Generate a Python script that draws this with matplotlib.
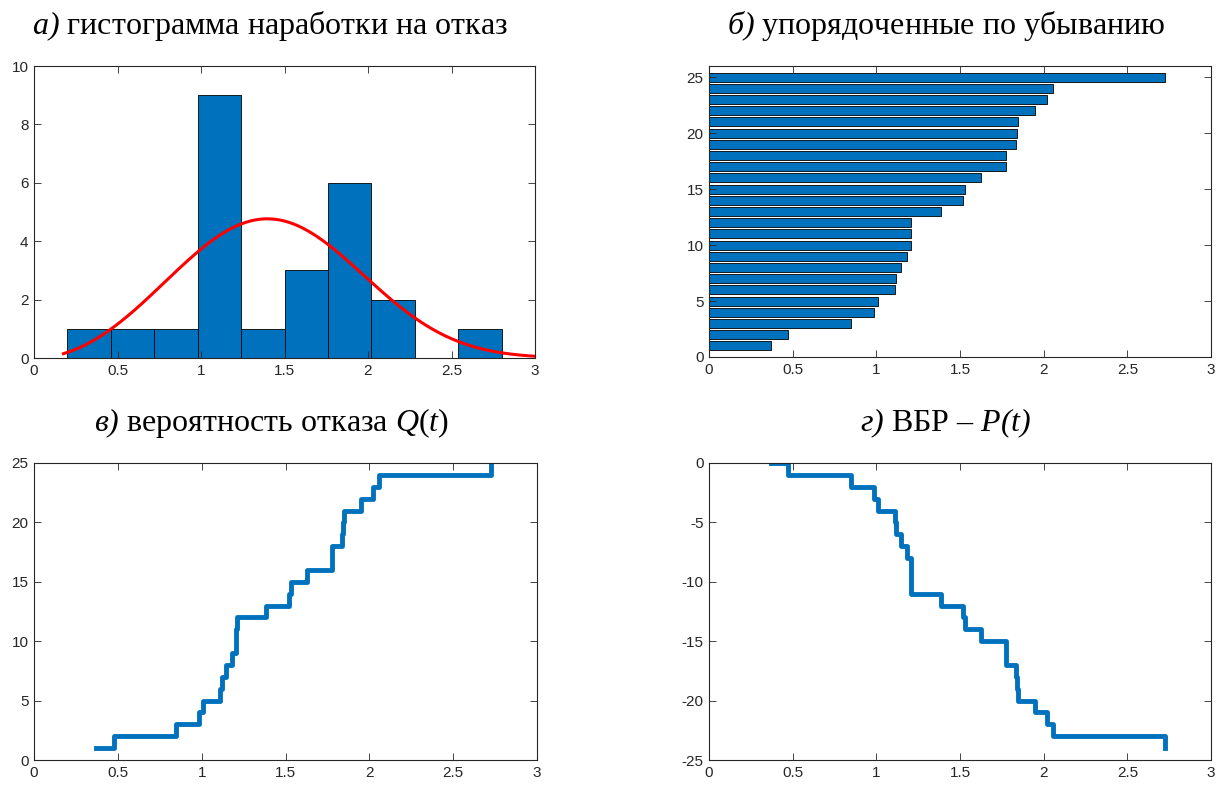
import numpy as np
import matplotlib
matplotlib.use("Agg")
import matplotlib.pyplot as plt

# наработка на отказ (отсортировано по возрастанию)
t_sorted = [0.372, 0.475, 0.848, 0.986, 1.010, 1.111, 1.119, 1.147, 1.182,
            1.206, 1.206, 1.210, 1.384, 1.519, 1.531, 1.626, 1.776, 1.776,
            1.836, 1.842, 1.848, 1.950, 2.022, 2.057, 2.723]
bin_edges = [0.2, 0.46, 0.72, 0.98, 1.24, 1.5, 1.76, 2.02, 2.28, 2.54, 2.8]
x_ticks = [0, 0.5, 1, 1.5, 2, 2.5, 3]

# \mathbf здесь = курсив целиком (включая скобки)
titles = [r"$\mathbf{а)}$ гистограмма наработки на отказ",
          r"$\mathbf{б)}$ упорядоченные по убыванию",
          r"$\mathbf{в)}$ вероятность отказа $Q(t)$",
          r"$\mathbf{г)}$ ВБР – $\mathbf{P(t)}$"]

blue = "#0072BD"
axcol = "#262626"

plt.rcParams["font.family"] = ["Liberation Sans", "DejaVu Sans"]
plt.rcParams["axes.unicode_minus"] = False
plt.rcParams["mathtext.fontset"] = "custom"
plt.rcParams["mathtext.rm"] = "Liberation Serif"
plt.rcParams["mathtext.it"] = "Liberation Serif:italic"
plt.rcParams["mathtext.bf"] = "Liberation Serif:italic"


def weibull_fit(x):
    # оценка максимального правдоподобия для Вейбулла
    x = np.asarray(x, dtype=float)
    lx = np.log(x)

    def g(k):
        xk = x ** k
        return np.sum(xk * lx) / np.sum(xk) - 1.0 / k - lx.mean()

    lo, hi = 0.1, 30.0
    for _ in range(200):
        mid = 0.5 * (lo + hi)
        if g(mid) > 0:
            hi = mid
        else:
            lo = mid
    k = 0.5 * (lo + hi)
    lam = np.mean(x ** k) ** (1.0 / k)
    return k, lam


fig = plt.figure(figsize=(12.28, 7.85), dpi=100)
W, H = 1228, 785


def make_ax(l, r, t, b):
    return fig.add_axes([l / W, 1 - b / H, (r - l) / W, (b - t) / H])


ax1 = make_ax(34, 535, 66, 358)
ax2 = make_ax(709, 1211, 66, 357)
ax3 = make_ax(34, 537, 463, 760)
ax4 = make_ax(709, 1211, 463, 760)

t = np.array(t_sorted)
n = len(t)

# а) гистограмма + плотность Вейбулла
ax1.hist(t, bins=bin_edges, color=blue, edgecolor="black", linewidth=0.6)
k, lam = weibull_fit(t)
binw = bin_edges[1] - bin_edges[0]
q = lam * (-np.log(1 - np.array([0.0013499, 0.99865]))) ** (1 / k)
xs = np.linspace(q[0], q[1], 200)
pdf = (k / lam) * (xs / lam) ** (k - 1) * np.exp(-(xs / lam) ** k)
ax1.plot(xs, n * binw * pdf, color="red", linewidth=2.2)
ax1.set_xlim(0, 3)
ax1.set_ylim(0, 10)
ax1.set_yticks(range(0, 11, 2))

# б) упорядоченные
ax2.barh(np.arange(1, n + 1), t, height=0.8, color=blue, edgecolor="black",
         linewidth=0.6)
ax2.set_xlim(0, 3)
ax2.set_ylim(0, 26)
ax2.set_yticks(range(0, 26, 5))

# в) Q(t)
ax3.step(t, np.arange(1, n + 1), where="post", color=blue, linewidth=3.5)
ax3.set_xlim(0, 3)
ax3.set_ylim(0, 25)
ax3.set_yticks(range(0, 26, 5))

# г) P(t)
ax4.step(t, -np.arange(0, n), where="post", color=blue, linewidth=3.5)
ax4.set_xlim(0, 3)
ax4.set_ylim(-25, 0)
ax4.set_yticks(range(-25, 1, 5))

for ax, title in zip([ax1, ax2, ax3, ax4], titles):
    ax.set_xticks(x_ticks)
    ax.set_xticklabels(["0", "0.5", "1", "1.5", "2", "2.5", "3"])
    ax.tick_params(direction="in", top=True, right=True, length=5,
                   width=0.6, color=axcol, labelcolor=axcol, labelsize=11,
                   pad=4)
    for s in ax.spines.values():
        s.set_color(axcol)
        s.set_linewidth(0.8)
    ax.set_title(title, fontsize=23, fontfamily="Liberation Serif", pad=23,
                 color="black", x=0.472)

fig.savefig("out.png", dpi=100)
